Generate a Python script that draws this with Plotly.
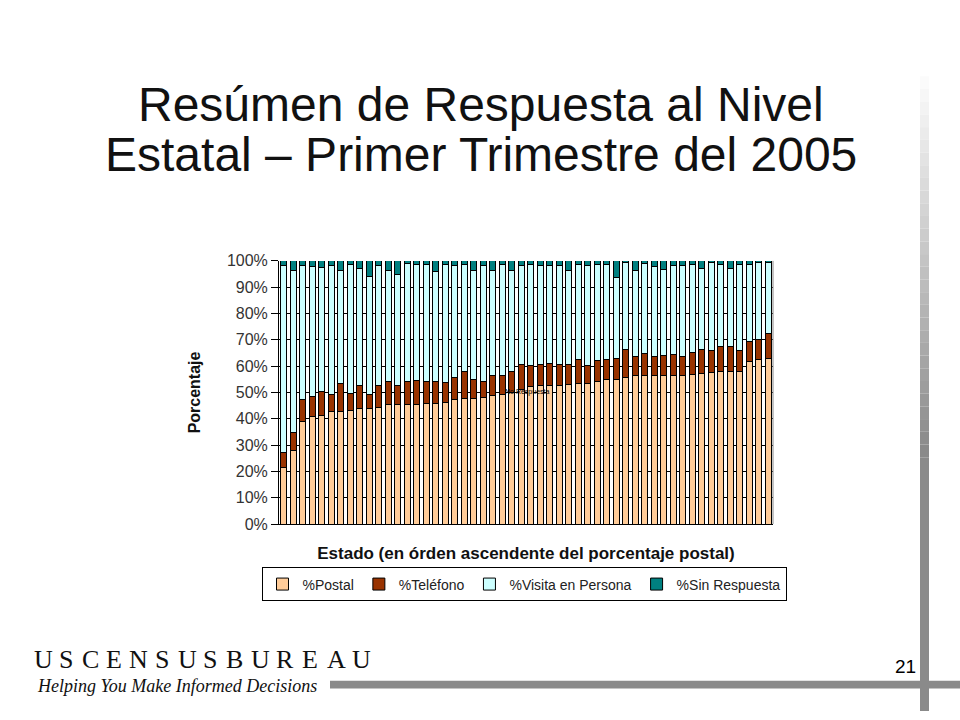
import plotly.graph_objects as go

# Cumulative tops (percent), one per state, ascending postal order
postal_top = [21.4, 28.0, 39.0, 41.0, 41.4, 42.9, 42.9, 43.3, 44.0, 44.0, 44.4, 45.3, 45.3,
              45.3, 45.3, 45.7, 45.9, 46.3, 47.4, 47.8, 47.8, 48.2, 48.9, 49.4, 49.9, 51.2,
              52.2, 52.5, 52.5, 52.7, 53.1, 53.5, 53.5, 54.2, 55.0, 55.0, 55.7, 56.5, 56.5,
              56.5, 56.5, 56.5, 56.5, 56.9, 57.2, 57.6, 58.0, 58.0, 58.0, 61.8, 62.6, 62.9]
phone_top = [27.0, 34.6, 47.4, 48.3, 50.4, 49.4, 53.5, 49.7, 52.7, 49.4, 52.7, 54.2, 52.5,
             54.2, 54.6, 54.2, 54.2, 53.8, 55.7, 57.9, 55.0, 54.2, 56.5, 56.5, 58.0, 60.8,
             60.1, 60.8, 61.0, 60.8, 60.8, 62.6, 60.1, 62.2, 62.6, 62.9, 66.5, 63.5, 64.8,
             63.5, 64.0, 64.4, 63.8, 65.2, 66.3, 65.9, 67.3, 67.3, 65.9, 69.3, 70.1, 72.4]
visit_top = [98.4, 96.5, 98.1, 97.7, 97.5, 98.4, 96.5, 98.7, 97.2, 94.0, 98.1, 96.5, 94.7,
             99.0, 98.7, 98.5, 95.8, 98.5, 98.1, 98.7, 96.5, 98.1, 96.5, 98.7, 96.5, 98.1,
             98.7, 98.1, 98.1, 98.1, 96.2, 98.5, 98.1, 98.7, 98.7, 93.5, 99.4, 96.2, 99.0,
             97.7, 96.9, 98.1, 98.1, 98.7, 97.2, 99.4, 98.7, 97.2, 98.7, 98.7, 99.2, 99.4]

states = [str(i + 1) for i in range(len(postal_top))]
postal = postal_top
phone = [round(b - a, 1) for a, b in zip(postal_top, phone_top)]
visit = [round(b - a, 1) for a, b in zip(phone_top, visit_top)]
nonresp = [round(100 - v, 1) for v in visit_top]

series_names = ["%Postal", "%Teléfono", "%Visita en Persona", "%Sin Respuesta"]
series_colors = ["#FFCC99", "#993300", "#CCFFFF", "#008080"]
y_ticks = [0, 10, 20, 30, 40, 50, 60, 70, 80, 90, 100]
y_tick_labels = [f"{t}%" for t in y_ticks]

fig = go.Figure()
for name, vals, col in zip(series_names, [postal, phone, visit, nonresp], series_colors):
    fig.add_trace(go.Bar(x=states, y=vals, name=name,
                         marker=dict(color=col, line=dict(color="black", width=1))))

W, H = 960, 720
x0, x1 = 279, 773
y0, y1 = 259, 528.5

fig.update_layout(
    width=W, height=H, barmode="stack", bargap=0.33,
    margin=dict(l=0, r=0, t=0, b=0),
    paper_bgcolor="white", plot_bgcolor="white",
    font=dict(family="Liberation Sans, Arial, sans-serif", color="black"),
    showlegend=True,
    legend=dict(orientation="h", x=524 / W, xanchor="center", y=1 - 573 / H, yanchor="top",
                bordercolor="black", borderwidth=1, font=dict(size=14, color="#222"),
                itemwidth=30, traceorder="normal", tracegroupgap=0),
    xaxis=dict(domain=[x0 / W, x1 / W], showticklabels=False, ticks="",
               showline=True, linecolor="black", linewidth=1, showgrid=False,
               range=[-0.5, len(states) - 0.5], fixedrange=True,
               title=dict(text="<b>Estado (en órden ascendente del porcentaje postal)</b>",
                          font=dict(size=17, color="#111"), standoff=23)),
    yaxis=dict(domain=[1 - y1 / H, 1 - y0 / H], range=[0, 100], tickvals=y_ticks,
               ticktext=y_tick_labels, ticks="outside", ticklen=7, tickcolor="black",
               showline=True, linecolor="black", linewidth=1,
               showgrid=True, gridcolor="black", gridwidth=1,
               tickfont=dict(size=16, color="#333"), fixedrange=True,
               title=dict(text="<b>Porcentaje</b>", font=dict(size=16, color="#111"), standoff=22)),
)

shapes = []
# plot area right border (gray)
shapes.append(dict(type="line", xref="paper", yref="paper", x0=x1 / W, x1=x1 / W,
                   y0=1 - y1 / H, y1=1 - y0 / H, line=dict(color="#888", width=1)))
# vertical decorative bar with fade
steps = 30
top, mid, bot = 70, 460, 720
for i in range(steps):
    ya = top + (mid - top) * i / steps
    yb = top + (mid - top) * (i + 1) / steps
    t = (i + 1) / steps
    g = int(255 - (255 - 138) * t)
    shapes.append(dict(type="rect", xref="paper", yref="paper", x0=920 / W, x1=929 / W,
                       y0=1 - yb / H, y1=1 - ya / H, line=dict(width=0),
                       fillcolor=f"rgb({g},{g},{g})", layer="below"))
shapes.append(dict(type="rect", xref="paper", yref="paper", x0=920 / W, x1=929 / W,
                   y0=1 - bot / H, y1=1 - mid / H, line=dict(width=0),
                   fillcolor="rgb(138,138,138)", layer="below"))
# horizontal decorative bar
shapes.append(dict(type="rect", xref="paper", yref="paper", x0=330 / W, x1=1,
                   y0=1 - 697 / H, y1=1 - 689 / H, line=dict(width=0),
                   fillcolor="rgb(138,138,138)", layer="below"))
fig.update_layout(shapes=shapes)

ann = []
title_lines = ["Resúmen de Respuesta al Nivel", "Estatal – Primer Trimestre del 2005"]
for line, ly in zip(title_lines, [99, 150]):
    ann.append(dict(text=line, xref="paper", yref="paper", x=481 / W, y=1 - ly / H,
                    xanchor="center", yanchor="middle", showarrow=False,
                    font=dict(size=48, color="#111", family="Liberation Sans, Arial, sans-serif")))
ann.append(dict(text="No Respuesta", xref="paper", yref="paper", x=527 / W, y=1 - 393 / H,
                xanchor="center", yanchor="middle",
                showarrow=False, font=dict(size=7, color="black")))
ann.append(dict(text="21", xref="paper", yref="paper", x=918 / W, y=1 - 674 / H,
                xanchor="right", yanchor="middle", showarrow=False,
                font=dict(size=19, color="black")))
logo_letters = list("USCENSUSBUREAU")
logo_x = [43, 65.5, 90.5, 114, 138.3, 161.6, 187, 209.6, 234.6, 260, 285, 310.3, 336.3, 361.3]
for ch, lx in zip(logo_letters, logo_x):
    ann.append(dict(text=ch, xref="paper", yref="paper", x=lx / W, y=1 - 667 / H,
                    showarrow=False, xanchor="center", yanchor="middle",
                    font=dict(size=26, color="#111", family="Liberation Serif, serif")))
ann.append(dict(text="<i>Helping You Make Informed Decisions</i>", xref="paper", yref="paper",
                x=35 / W, y=1 - 694 / H, xanchor="left", yanchor="middle", showarrow=False,
                font=dict(size=18, color="#111", family="Liberation Serif, serif")))
fig.update_layout(annotations=ann)

fig.write_html("out.html", config={"displayModeBar": False})
with open("out.html", "r", encoding="utf-8") as f:
    html = f.read()
html = html.replace("<head>", "<head><style>html,body{margin:0;padding:0;overflow:hidden;}</style>", 1)
with open("out.html", "w", encoding="utf-8") as f:
    f.write(html)
